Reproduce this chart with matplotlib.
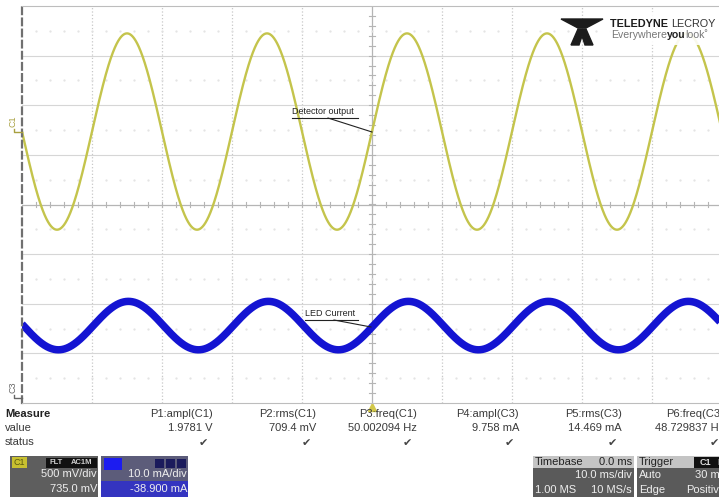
import numpy as np
import matplotlib.pyplot as plt
from matplotlib.patches import Rectangle, Polygon
from matplotlib.lines import Line2D

plt.rcParams['font.family'] = ['Liberation Sans', 'DejaVu Sans']

W, H = 719, 499

# scope settings shown on screen
time_div_ms = 10.0
c1_volt_div = 0.5
c1_offset_v = 0.735
c3_ma_div = 10.0
c3_offset_ma = -38.9

# traces
c1_freq_hz = 50.0
c1_half_ampl_v = 0.989
c1_trough_ms = 5.0
c3_freq_hz = 50.0
c3_half_ampl_ma = 4.88
c3_mean_ma = 14.5
c3_trough_ms = 5.2

meas_names = ['P1:ampl(C1)', 'P2:rms(C1)', 'P3:freq(C1)', 'P4:ampl(C3)', 'P5:rms(C3)', 'P6:freq(C3)']
meas_values = ['1.9781 V', '709.4 mV', '50.002094 Hz', '9.758 mA', '14.469 mA', '48.729837 Hz']

YELLOW = '#c4c44c'
BLUE = '#1414d2'


def fx(x):
    return x / W


def fy(y):
    return 1 - y / H


def ftext(x, y, s, **kw):
    kw.setdefault('va', 'center')
    return fig.text(fx(x), fy(y), s, **kw)


def frect(x0, y0, x1, y1, color, **kw):
    r = Rectangle((fx(x0), fy(y1)), (x1 - x0) / W, (y1 - y0) / H,
                  transform=fig.transFigure, facecolor=color, edgecolor='none', **kw)
    fig.patches.append(r)
    return r


def fline(xs, ys, **kw):
    fig.lines.append(Line2D([fx(x) for x in xs], [fy(y) for y in ys],
                            transform=fig.transFigure, **kw))


def text_run(x, y, pieces):
    # pieces of text written one after the other
    r = fig.canvas.get_renderer()
    for s, kw in pieces:
        t = ftext(x, y, s, ha='left', **kw)
        x += t.get_window_extent(r).width


fig = plt.figure(figsize=(W / 100, H / 100), dpi=100, facecolor='white')
ax = fig.add_axes([fx(22), fy(403), 700 / W, 397 / H])
ax.set_xlim(0, 10)
ax.set_ylim(-4, 4)
ax.set_xticks([])
ax.set_yticks([])
for s in ['top', 'right', 'bottom']:
    ax.spines[s].set_color('#bdbdbd')
ax.spines['left'].set_color('#707070')
ax.spines['left'].set_linestyle((0, (3, 2)))
ax.spines['left'].set_linewidth(1.6)

# graticule
for i in range(1, 10):
    if i != 5:
        ax.axvline(i, color='#c8c8c8', ls=':', lw=0.9)
for j in range(-3, 4):
    if j != 0:
        ax.axhline(j, color='#d6d6d6', lw=0.8)
ax.axvline(5, color='#b5b5b5', lw=0.9)
ax.axhline(0, color='#b5b5b5', lw=0.9)
for k in np.arange(0.2, 10, 0.2):
    ax.plot([k, k], [-0.06, 0.06], color='#b5b5b5', lw=0.8)
for k in np.arange(-3.8, 4, 0.2):
    ax.plot([5 - 0.043, 5 + 0.043], [k, k], color='#b5b5b5', lw=0.8)
dots_x = np.arange(0.2, 10, 0.2)
for j in np.arange(-3.5, 4, 1.0):
    ax.plot(dots_x, np.full_like(dots_x, j), ls='none', marker='.', ms=1.2, color='#e2e2e2')

# traces
t = np.linspace(0, 10 * time_div_ms, 4000)
c1 = -c1_half_ampl_v * np.cos(2 * np.pi * c1_freq_hz * (t - c1_trough_ms) / 1000)
c3 = c3_mean_ma - c3_half_ampl_ma * np.cos(2 * np.pi * c3_freq_hz * (t - c3_trough_ms) / 1000)
ax.plot(t / time_div_ms, (c3 + c3_offset_ma) / c3_ma_div, color=BLUE, lw=5.4, solid_capstyle='butt')
ax.plot(t / time_div_ms, (c1 + c1_offset_v) / c1_volt_div, color=YELLOW, lw=1.7)

# trigger marker
ax.plot(5, -4.08, marker='^', ms=6, color='#d2c84a', clip_on=False)

# channel ground markers
px_div = 397 / 8
c1_y = 204.5 - c1_offset_v / c1_volt_div * px_div
c3_y = 204.5 - c3_offset_ma / c3_ma_div * px_div
ftext(13, c1_y - 10, 'C1', rotation=90, fontsize=6.5, color='#a8a040', ha='center')
fline([14, 14, 22], [c1_y - 3, c1_y, c1_y], color='#a8a040', lw=1)
ftext(13, c3_y - 10, 'C3', rotation=90, fontsize=6.5, color='#666666', ha='center')
fline([14, 14, 22], [c3_y - 3, c3_y, c3_y], color='#666666', lw=1)

# annotations
ftext(292, 112, 'Detector output', fontsize=6.5, color='#222222', ha='left')
fline([292, 358], [117.5, 117.5], color='#222222', lw=0.8)
fline([328, 372], [118, 132], color='#222222', lw=0.8)
ftext(305, 314, 'LED Current', fontsize=6.5, color='#222222', ha='left')
fline([305, 358], [319.5, 319.5], color='#222222', lw=0.8)
fline([334, 371], [320, 327], color='#222222', lw=0.8)

# logo
frect(604, 12, 719, 45, 'white', alpha=0.9)
fig.patches.append(Polygon([(fx(x), fy(y)) for x, y in
                            [(561, 19), (603, 19), (586, 28), (578, 28)]],
                           closed=True, transform=fig.transFigure, color='#1c1c1c'))
fig.patches.append(Polygon([(fx(x), fy(y)) for x, y in
                            [(578, 29), (586, 29), (593, 45), (585, 45), (582, 36), (579, 45), (571, 45)]],
                           closed=True, transform=fig.transFigure, color='#1c1c1c'))
text_run(610, 24, [('TELEDYNE ', dict(fontsize=7.8, fontweight='bold', color='#1c1c1c')),
                   ('LECROY', dict(fontsize=7.8, color='#333333'))])
text_run(611, 35, [('Everywhere', dict(fontsize=7.6, color='#777777')),
                   ('you', dict(fontsize=7.6, color='#222222', fontweight='bold')),
                   ('look\u02DA', dict(fontsize=7.6, color='#777777'))])

# measurement table
TXT = '#3a3a3a'
ftext(5, 414, 'Measure', fontsize=8, fontweight='bold', color='#222222', ha='left')
ftext(5, 428, 'value', fontsize=8, color=TXT, ha='left')
ftext(5, 442, 'status', fontsize=8, color=TXT, ha='left')
col_right = [213, 316, 417, 519, 622, 724]
for xr, name, val in zip(col_right, meas_names, meas_values):
    ftext(xr, 414, name, fontsize=8, color=TXT, ha='right')
    ftext(xr, 428, val, fontsize=8, color=TXT, ha='right')
    ftext(xr - 10, 443, '\u2714', fontsize=8, color='#444444', ha='center')

# C1 descriptor box
frect(10, 456, 98, 497, '#5e5e5e')
frect(12, 457, 27, 468, '#c8c030')
ftext(19.5, 462.5, 'C1', fontsize=6.5, color='#5a5a10', ha='center')
frect(46, 458, 97, 468, '#111111')
ftext(56, 463, 'FLT', fontsize=5.5, fontweight='bold', color='#cfcfcf', ha='center')
ftext(82, 463, 'AC1M', fontsize=5.5, fontweight='bold', color='#cfcfcf', ha='center')
ftext(97, 474, '500 mV/div', fontsize=8, color='#eeeeee', ha='right')
ftext(97, 489, '735.0 mV', fontsize=8, color='#eeeeee', ha='right')

# C3 descriptor box
frect(101, 456, 188, 497, '#5c5c7a')
frect(101, 481, 188, 497, '#3434c0')
frect(104, 458, 122, 470, '#1c1cf0')
for x0 in [155, 166, 177]:
    frect(x0, 459, x0 + 9, 468, '#1a1a5c')
ftext(187, 474, '10.0 mA/div', fontsize=8, color='#eeeeee', ha='right')
ftext(187, 489, '-38.900 mA', fontsize=8, color='#eeeeee', ha='right')

# timebase box
frect(533, 456, 634, 497, '#5a5a5a')
frect(533, 456, 634, 468, '#c4c4c4')
ftext(535, 462, 'Timebase', fontsize=8, color='#222222', ha='left')
ftext(632, 462, '0.0 ms', fontsize=8, color='#222222', ha='right')
ftext(632, 475, '10.0 ms/div', fontsize=8, color='#eeeeee', ha='right')
ftext(535, 490, '1.00 MS', fontsize=8, color='#eeeeee', ha='left')
ftext(632, 490, '10 MS/s', fontsize=8, color='#eeeeee', ha='right')

# trigger box
frect(637, 456, 719, 497, '#5a5a5a')
frect(637, 456, 719, 468, '#c4c4c4')
ftext(639, 462, 'Trigger', fontsize=8, color='#222222', ha='left')
frect(694, 457, 719, 468, '#111111')
ftext(705, 462.5, 'C1', fontsize=6.5, fontweight='bold', color='#dddddd', ha='center')
ftext(717, 462.5, 'DC', fontsize=6.5, fontweight='bold', color='#dddddd', ha='left')
ftext(639, 475, 'Auto', fontsize=8, color='#eeeeee', ha='left')
ftext(727, 475, '30 mV', fontsize=8, color='#eeeeee', ha='right')
ftext(639, 490, 'Edge', fontsize=8, color='#eeeeee', ha='left')
ftext(725, 490, 'Positive', fontsize=8, color='#eeeeee', ha='right')

fig.savefig('out.png', dpi=100, facecolor='white')
